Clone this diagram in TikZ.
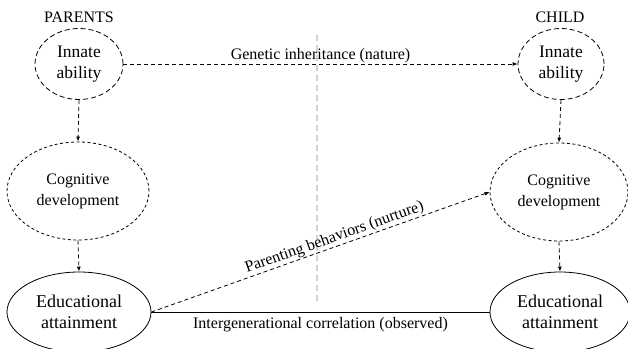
\documentclass[tikz,border=0pt]{standalone}
\usepackage{fontspec}
\setmainfont{Liberation Serif}
\usetikzlibrary{shapes.geometric,arrows.meta}
\begin{document}
\begin{tikzpicture}[x=1pt,y=-1pt,
  lbl/.style={font=\fontsize{16}{19}\selectfont, inner sep=2pt},
  ell/.style={ellipse, inner sep=0pt, align=center, line width=0.8pt},
  innate/.style={ell, draw, dash pattern=on 5pt off 3pt, font=\fontsize{17.5}{21}\selectfont, minimum width=88pt, minimum height=71pt},
  cogn/.style={ell, draw, dash pattern=on 3pt off 2.5pt, font=\fontsize{16}{21}\selectfont, minimum width=140pt, minimum height=98pt},
  educ/.style={ell, draw, font=\fontsize{18}{21.5}\selectfont, minimum width=143pt, minimum height=80pt},
  arr/.style={-{Latex[length=5pt,width=4pt]}, line width=0.8pt, dash pattern=on 4pt off 3pt},
]
\useasboundingbox (0,0) rectangle (628,348);
\draw[gray!35, line width=1.5pt, dash pattern=on 6pt off 4pt] (317,35) coordinate (gtop) -- (317,302) coordinate (gbot);
\node[lbl] (pa) at (79,17) {PARENTS};
\node[lbl] (ch) at (560,17) {CHILD};
\node[innate] (pI) at (79,64) {Innate\\ability};
\node[innate, minimum width=86pt] (cI) at (561,64) {Innate\\ability};
\node[cogn, minimum width=142pt] (pC) at (78,191) {Cognitive\\development};
\node[cogn, minimum width=138pt] (cC) at (559,192) {Cognitive\\development};
\node[educ, minimum width=144pt] (pE) at (79,312) {Educational\\attainment};
\node[educ, minimum width=140pt] (cE) at (560,312) {Educational\\attainment};
\draw[arr] (pI.east) -- node[lbl, above, inner sep=1pt] (gl) {Genetic inheritance (nature)} (cI.west);
\draw[arr] (pI.south) -- (pC.north);
\draw[arr] (pC.south) -- (pE.north);
\draw[arr] (cI.south) -- (cC.north);
\draw[arr] (cC.south) -- (cE.north);
\draw[arr] (pE.east) -- node[lbl, pos=0.55, above, sloped, inner sep=1pt] (pl) {Parenting behaviors (nurture)} (cC.west);
\draw[line width=0.8pt] (pE.east) -- node[lbl, below, inner sep=5pt] (il) {Intergenerational correlation (observed)} (cE.west);
\end{tikzpicture}
\end{document}
